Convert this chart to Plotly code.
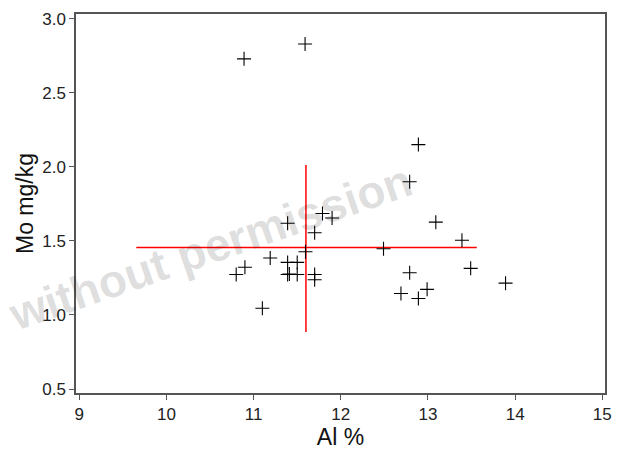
import plotly.graph_objects as go

al = [10.89, 11.59, 11.39, 11.79, 11.90, 11.70, 11.595, 12.49, 11.19, 10.90, 10.80,
      11.39, 11.50, 11.39, 11.41, 11.50, 11.70, 11.70, 11.10, 12.79, 12.69, 12.89,
      12.89, 12.79, 13.09, 13.39, 13.49, 13.89, 12.99]
mo = [2.73, 2.83, 1.62, 1.685, 1.655, 1.555, 1.427, 1.447, 1.385, 1.322, 1.273,
      1.355, 1.355, 1.273, 1.276, 1.273, 1.273, 1.238, 1.045, 1.285, 1.145, 1.111,
      2.151, 1.90, 1.627, 1.505, 1.315, 1.215, 1.173]

mean_al = 11.60
al_range = [9.654, 13.56]
mean_mo = 1.455
mo_range = [0.885, 2.013]

fig = go.Figure()
fig.add_annotation(text="without permission", xref="paper", yref="paper",
                   x=0.255, y=0.385, xanchor="center", yanchor="middle",
                   showarrow=False, textangle=-19,
                   font=dict(family="Liberation Sans", size=46, color="rgba(0,0,0,0.14)", weight="bold"))
fig.add_trace(go.Scatter(x=al_range, y=[mean_mo, mean_mo], mode="lines",
                         line=dict(color="#ff0000", width=1.5), hoverinfo="skip"))
fig.add_trace(go.Scatter(x=[mean_al, mean_al], y=mo_range, mode="lines",
                         line=dict(color="#ff0000", width=1.5), hoverinfo="skip"))
fig.add_trace(go.Scatter(x=al, y=mo, mode="markers",
                         marker=dict(symbol="cross-thin", size=10,
                                     line=dict(color="black", width=1.1))))

axis_common = dict(showgrid=False, zeroline=False, showline=True, linecolor="#555555",
                   linewidth=1.5, mirror=True, ticks="outside", ticklen=5,
                   tickcolor="#555555", tickfont=dict(family="Liberation Sans", size=17, color="#222"))
fig.update_xaxes(range=[8.962, 15.031], tickvals=[9, 10, 11, 12, 13, 14, 15],
                 title=dict(text="Al %", font=dict(family="Liberation Sans", size=23, color="#111"),
                            standoff=6), **axis_common)
fig.update_yaxes(range=[0.473, 3.033], tickvals=[0.5, 1.0, 1.5, 2.0, 2.5, 3.0],
                 tickformat=".1f",
                 title=dict(text="Mo mg/kg", font=dict(family="Liberation Sans", size=23, color="#111"),
                            standoff=2), **axis_common)
fig.update_layout(width=622, height=456, margin=dict(l=76, r=17, t=10, b=62),
                  plot_bgcolor="white", paper_bgcolor="white", showlegend=False)
fig.write_html("out.html")
